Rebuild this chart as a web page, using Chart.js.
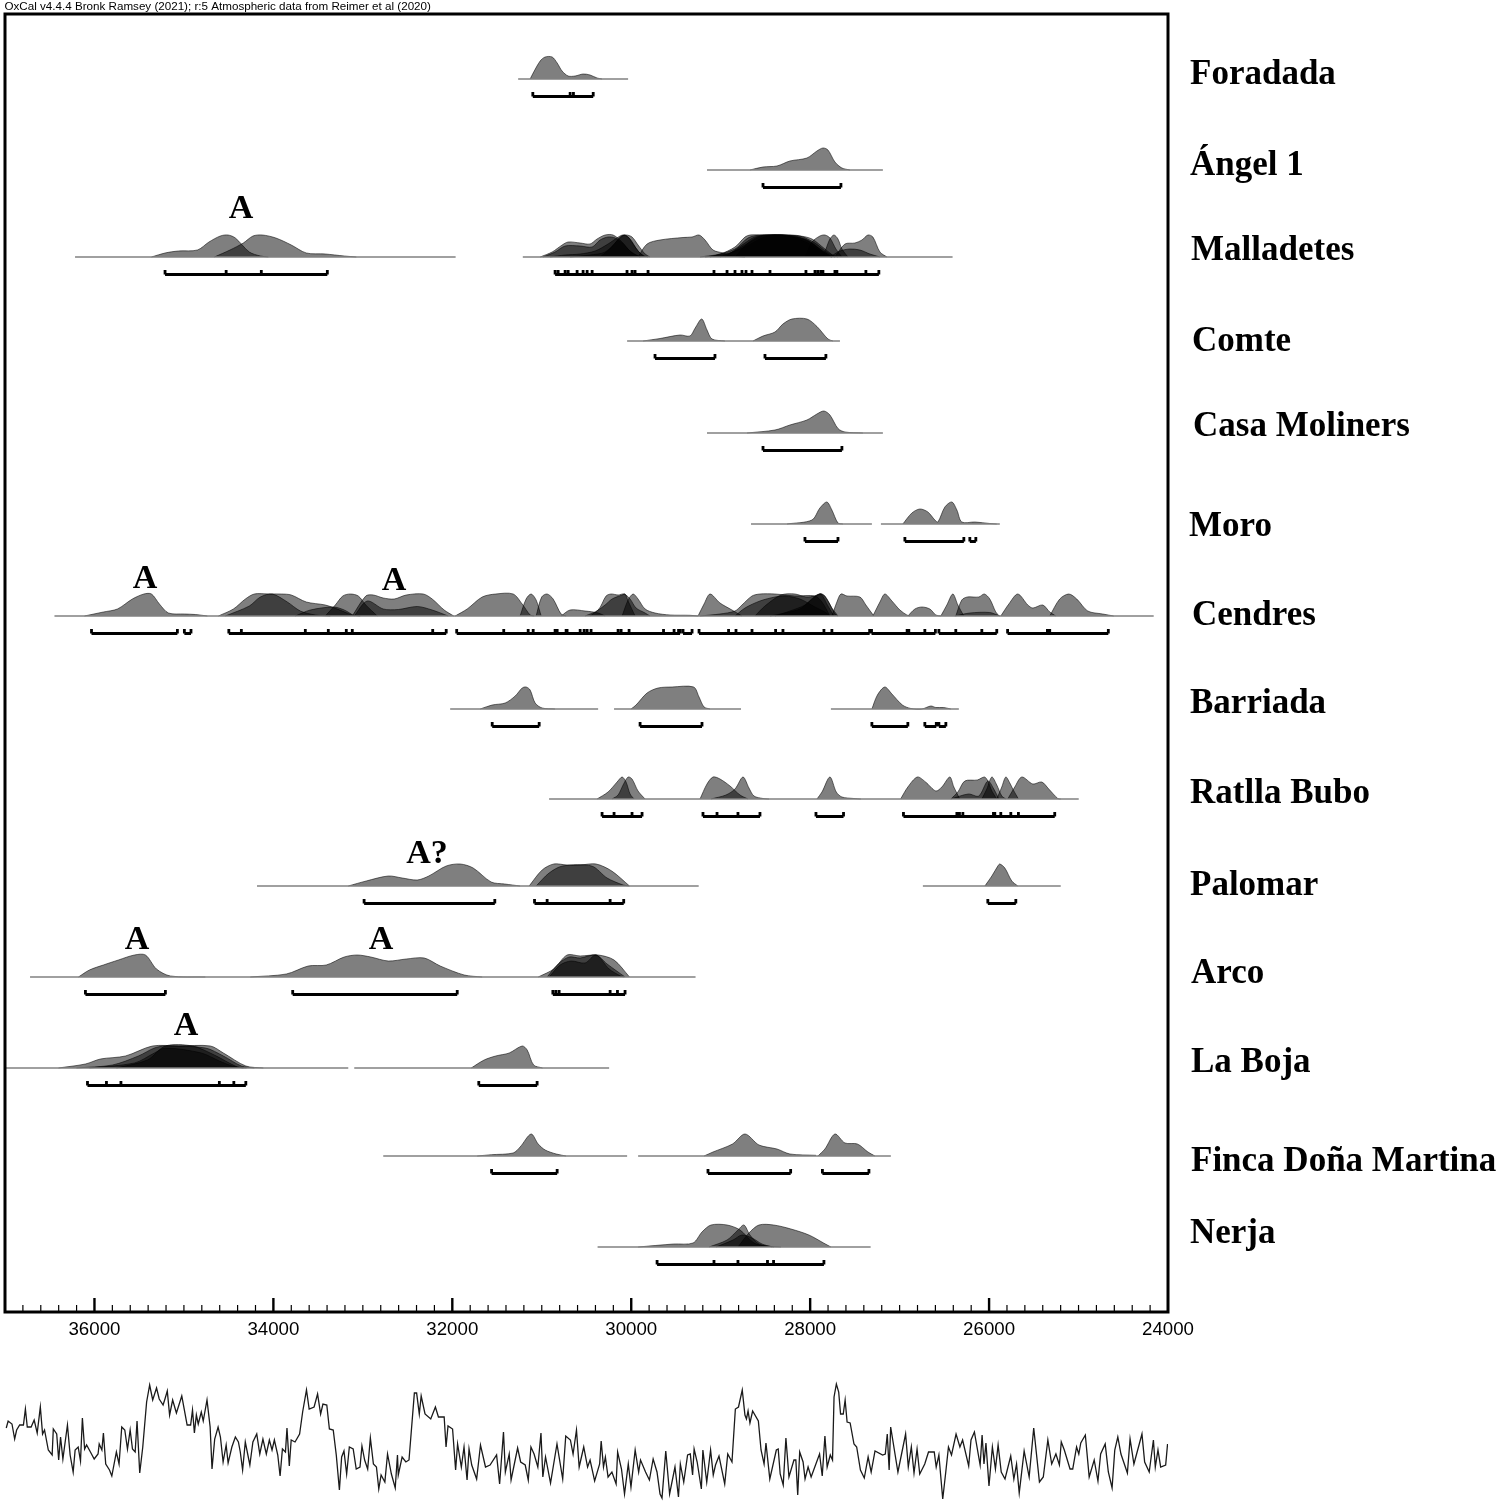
<!DOCTYPE html>
<html>
<head>
<meta charset="utf-8">
<script src="https://cdn.jsdelivr.net/npm/chart.js@4"></script>
<style>
  html, body { margin: 0; padding: 0; background: #fff; }
  canvas { position: absolute; left: 0; display: block; }
  #main { top: 0; }
  #curve { top: 1375px; }
</style>
</head>
<body>
<canvas id="main" width="1500" height="1375"></canvas>
<canvas id="curve" width="1500" height="130"></canvas>
<script>
const titleText = "OxCal v4.4.4 Bronk Ramsey (2021); r:5 Atmospheric data from Reimer et al (2020)";

// [year cal BP, height] for each density, [start, ...ticks, end] for each range
const foradadaLine = [[31264, 30035]];
const foradadaHumps = [
  [[31130,0],[31096,6],[31018,18],[30962,22],[30884,22],[30828,16],[30773,8],[30705,3],[30627,3],[30538,5],[30460,4],[30382,1],[30326,0]],
];
const foradadaRanges = [[31100, 30683, 30646, 30425]];

const angelLine = [[29153, 27187]];
const angelHumps = [
  [[28673,0],[28527,3],[28371,4],[28226,9],[28036,12],[27924,19],[27857,22],[27801,20],[27723,8],[27645,2],[27555,0]],
];
const angelRanges = [[28527, 27656]];

const malladetesLine = [[36217, 31963], [31212, 26408]];
const malladetesHumps = [
  [[35363,0],[35211,4],[35062,6],[34849,7],[34720,15],[34593,21],[34507,22],[34425,19],[34269,5],[34146,1],[34056,0]],
  [[34660,0],[34485,7],[34336,14],[34228,21],[34123,22],[33973,19],[33800,12],[33632,4],[33420,3],[33208,1],[33073,0]],
  [[31018,0],[30884,5],[30772,12],[30705,15],[30571,14],[30460,13],[30382,18],[30292,22],[30203,22],[30102,15],[30013,6],[29901,0]],
  [[30985,0],[30851,5],[30739,11],[30571,11],[30437,10],[30348,17],[30259,20],[30180,19],[30091,13],[29991,4],[29901,0]],
  [[30907,0],[30739,2],[30571,3],[30404,6],[30259,13],[30125,21],[30080,22],[30013,18],[29924,6],[29845,0]],
  [[30683,0],[30460,2],[30292,5],[30158,16],[30080,22],[30035,20],[29957,10],[29879,2],[29812,0]],
  [[30348,0],[30214,10],[30125,20],[30058,22],[29991,20],[29924,12],[29845,3],[29790,0]],
  [[29924,0],[29823,13],[29678,17],[29421,19.5],[29320,20],[29242,22],[29175,17],[29086,7],[28974,4],[28862,1],[28728,0]],
  [[29231,0],[29008,3],[28840,10],[28728,20],[28673,22],[28561,22],[28281,21],[28058,18],[27946,12],[27835,4],[27723,0]],
  [[29119,0],[28840,8],[28695,19],[28561,22],[28337,22],[28114,21],[27980,18],[27835,8],[27723,0]],
  [[28952,0],[28728,14],[28617,20],[28449,22],[28281,22],[28058,17],[27891,8],[27757,0]],
  [[28840,0],[28695,14],[28561,21],[28393,22],[28170,21],[28002,15],[27868,6],[27757,0]],
  [[29175,0],[28896,4],[28728,12],[28561,20],[28427,22],[28281,22],[28114,21],[27946,14],[27801,4],[27689,0]],
  [[29008,0],[28728,10],[28538,19],[28393,22],[28203,20],[28025,14],[27868,5],[27757,0]],
  [[28058,0],[27980,15],[27891,21],[27835,22],[27779,19],[27712,8],[27645,0]],
  [[27868,0],[27824,8],[27779,18],[27734,22],[27689,18],[27645,8],[27578,0]],
  [[27723,0],[27611,13],[27500,14],[27421,17],[27354,22],[27299,20],[27220,5],[27142,0]],
  [[27779,0],[27667,6],[27556,8],[27444,7],[27332,3],[27220,0]],
];
const malladetesRanges = [
  [35211, 34528, 34135, 33397],
  [30851, 30817, 30739, 30705, 30605, 30538, 30493, 30437, 30047, 29991, 29957, 29812, 29075, 28929, 28840, 28762, 28717, 28650, 28449, 28047, 27946, 27913, 27879, 27857, 27723, 27701, 27377, 27232],
];

const comteLine = [[30046, 27667]];
const comteHumps = [
  [[29868,0],[29678,2.5],[29454,6],[29343,5],[29287,12.7],[29212,22],[29153,11],[29097,2],[28952,0]],
  [[28639,0],[28527,5],[28393,9],[28304,17],[28203,22],[28036,22],[27924,14.5],[27801,2],[27745,0]],
];
const comteRanges = [[29734, 29064], [28505, 27824]];

const casaLine = [[29153, 27187]];
const casaHumps = [
  [[28706,0],[28393,3],[28226,8],[28036,13],[27924,19],[27846,22],[27779,18],[27689,4.5],[27611,1],[27410,0]],
];
const casaRanges = [[28527, 27645]];

const moroLine = [[28661, 27310], [27209, 25880]];
const moroHumps = [
  [[28259,0],[27980,4],[27891,16],[27813,22],[27757,14],[27689,1],[27634,0]],
  [[26964,0],[26863,11],[26774,15],[26684,12],[26606,4],[26572,2],[26494,17],[26416,22],[26360,14],[26305,2],[26159,2],[25992,0.5],[25914,0]],
];
const moroRanges = [[28058, 27689], [26941, 26282], [26215, 26148]];

const cendresLine = [[36447, 24160]];
const cendresHumps = [
  [[36112,0],[35900,4],[35743,7],[35576,17],[35447,22],[35363,22],[35274,12],[35173,3],[34995,2],[34872,1.5],[34738,0]],
  [[34615,0],[34447,7],[34313,17],[34213,22],[34056,22],[33911,22],[33800,21],[33632,14],[33420,11],[33286,7],[33118,1],[33029,0]],
  [[34537,0],[34269,10],[34146,19],[34012,22],[33844,14],[33699,5],[33531,1],[33364,0]],
  [[33755,0],[33587,6],[33330,9],[33208,6],[33096,0]],
  [[33420,0],[33308,11],[33224,20],[33141,22],[33051,20],[32967,11],[32839,0]],
  [[33118,0],[32967,20],[32884,21],[32772,18],[32649,17],[32515,21],[32325,22],[32225,17],[32091,6],[31984,0]],
  [[33096,0],[32951,15],[32772,7],[32604,6.5],[32392,9.5],[32225,6],[32046,0]],
  [[31968,0],[31834,7],[31666,19],[31514,22],[31320,22],[31219,12],[31130,1],[31085,0]],
  [[31242,0],[31175,17],[31119,22],[31063,16],[31007,0]],
  [[31063,0],[31001,19],[30940,22],[30873,17],[30784,2],[30728,0]],
  [[30784,0],[30683,6],[30516,5],[30370,3],[30292,0]],
  [[30516,0],[30370,6],[30281,20],[30225,22],[30147,21],[30080,22],[30013,17],[29946,8],[29845,3],[29790,0]],
  [[30460,0],[30292,11],[30214,17],[30102,21],[30069,22],[30035,15],[29957,0]],
  [[30102,0],[30035,16],[29979,22],[29924,17],[29845,7],[29734,3],[29566,1],[29343,0.7],[29253,0]],
  [[29253,0],[29186,12],[29119,22],[29008,13],[28874,6],[28762,0]],
  [[29231,0],[29008,2],[28840,5],[28762,11],[28650,20],[28561,22],[28393,22],[28281,21],[28170,20],[27946,20],[27868,14],[27779,0]],
  [[28840,0],[28728,8],[28561,15],[28393,19],[28281,20],[28114,17],[27946,9],[27835,4],[27779,0]],
  [[28617,0],[28505,10],[28326,21],[28170,22],[28047,19],[27946,20],[27879,22],[27801,10],[27734,0]],
  [[28449,0],[28281,3],[28114,7],[28002,15],[27891,22],[27835,20],[27757,8],[27689,0]],
  [[28393,0],[28226,5],[28058,11],[27946,20],[27868,22],[27801,15],[27723,2],[27689,0]],
  [[27757,0],[27701,14],[27656,22],[27589,20],[27444,19],[27377,11],[27288,0]],
  [[27299,0],[27220,14],[27165,22],[27086,15],[26997,6],[26919,1],[26885,0]],
  [[26908,0],[26829,7],[26751,9],[26662,7],[26595,1],[26539,0]],
  [[26539,0],[26472,11],[26405,22],[26349,11],[26282,0]],
  [[26372,0],[26305,16],[26243,19],[26115,19],[26053,22],[25992,17],[25925,4],[25886,0]],
  [[26383,0],[26215,3],[25992,3.5],[25880,0]],
  [[25869,0],[25779,12],[25679,22],[25567,11],[25511,8],[25400,11],[25322,4],[25254,0]],
  [[25322,0],[25210,17],[25109,22],[25020,17],[24897,5],[24730,2],[24607,0]],
];
const cendresRanges = [
  [36033, 35073],
  [34995, 34921],
  [34498, 34358, 33643, 33386, 33185, 33118, 32219, 32068],
  [31951, 31425, 31152, 31096, 30851, 30828, 30728, 30717, 30571, 30527, 30493, 30449, 30147, 30113, 30024, 29639, 29521, 29471, 29454],
  [29421, 29320],
  [29242, 28912, 28829, 28650, 28386, 28304, 27846, 27757, 27335],
  [27314, 26916, 26897, 26718, 26600],
  [26561, 26372, 26081, 25914],
  [25793, 25348, 25322, 24667],
];

const barriadaLine = [[32024, 30370], [30192, 28773], [27768, 26338]];
const barriadaHumps = [
  [[31688,0],[31554,4],[31409,6],[31297,13],[31219,21],[31175,22],[31130,19],[31074,6],[30996,1],[30851,0]],
  [[30002,0],[29946,4],[29823,16],[29700,21],[29544,22],[29303,22],[29242,12],[29186,2],[29119,0]],
  [[27310,0],[27248,14],[27165,22],[27086,15],[26969,4],[26874,0.5],[26751,0],[26651,3],[26595,1.5],[26510,1.5],[26427,0]],
];
const barriadaRanges = [[31554, 31029], [29901, 29209], [27310, 26908], [26718, 26590], [26561, 26483]];

const ratllaLine = [[30918, 24998]];
const ratllaHumps = [
  [[30382,0],[30259,7],[30158,17],[30102,22],[30058,17],[30013,5],[29968,0]],
  [[30214,0],[30147,4],[30091,14],[30035,22],[29991,20],[29924,8],[29845,0]],
  [[29231,0],[29153,15],[29086,22],[29008,20],[28896,13],[28784,4],[28695,0]],
  [[29108,0],[28941,4],[28840,10],[28751,22],[28684,11],[28628,3],[28527,0.5],[28460,0]],
  [[27924,0],[27868,7],[27779,22],[27708,7],[27645,2],[27511,0.5],[27433,0]],
  [[26989,0],[26908,12],[26802,22],[26710,17],[26595,8],[26528,12],[26439,22],[26394,12],[26327,0]],
  [[26427,0],[26349,7],[26271,18],[26131,19],[26052,22],[26014,18],[25969,8],[25914,0]],
  [[26081,0],[26025,10],[25969,22],[25914,14],[25858,3],[25813,0]],
  [[26427,0],[26231,5],[26115,3],[26014,18],[25947,10],[25891,0]],
  [[25914,0],[25858,12],[25813,22],[25768,16],[25735,10],[25672,0]],
  [[25791,0],[25713,12],[25634,22],[25511,15],[25411,17],[25333,10],[25232,0.5],[25199,0]],
];
const ratllaRanges = [
  [30326, 30192, 29991, 29879],
  [29198, 29041, 28807, 28561],
  [27935, 27627],
  [26957, 26360, 26331, 26293, 25951, 25936, 25869, 25757, 25672, 25266],
];

const palomarLine = [[34183, 29246], [26740, 25199]];
const palomarHumps = [
  [[33163,0],[32962,5],[32716,10],[32560,8],[32392,6],[32263,10],[32068,20],[31912,22],[31767,18],[31566,4],[31415,2],[31242,0]],
  [[31141,0],[30996,16],[30866,22],[30717,21],[30571,21],[30393,22],[30218,15],[30019,0]],
  [[31063,0],[30918,13],[30767,20],[30443,20],[30270,8],[30091,1],[30024,0]],
  [[26047,0],[25969,10],[25902,20],[25880,22],[25824,18],[25746,5],[25679,0]],
];
const palomarRanges = [[32986, 31525], [31081, 30940, 30236, 30084], [26014, 25701]];

const arcoLine = [[36720, 29281]];
const arcoHumps = [
  [[36179,0],[36056,7],[35900,12],[35732,17],[35553,22],[35430,22],[35307,8],[35151,1],[34760,0]],
  [[34258,0],[33855,3],[33610,11],[33409,12],[33208,20],[33062,22],[32912,20],[32716,16],[32515,18],[32314,19],[32135,11],[31867,2],[31666,0]],
  [[31040,0],[30866,8],[30717,22],[30571,21],[30370,22],[30192,17],[30019,0]],
  [[30940,0],[30817,13],[30694,20],[30571,19],[30393,22],[30270,13],[30069,0]],
  [[30918,0],[30795,12],[30672,16],[30516,14],[30393,22],[30247,8],[30119,1],[30080,0]],
];
const arcoRanges = [[36101, 35207], [33784, 31945], [30876, 30842, 30806, 30236, 30154, 30069]];

const bojaLine = [[37000, 33163], [33096, 30247]];
const bojaHumps = [
  [[36402,0],[36101,4],[35933,9],[35654,12],[35352,22],[35055,22],[34704,22],[34559,15],[34308,2],[34112,0]],
  [[36201,0],[35799,3],[35509,12],[35330,20],[35207,22],[34760,20],[34559,12],[34358,2],[34213,0]],
  [[36056,0],[35553,5],[35330,15],[35207,20],[34805,15],[34604,7],[34459,2],[34336,0]],
  [[35754,0],[35408,8],[35207,22],[34905,22],[34660,13],[34403,1],[34300,0]],
  [[31789,0],[31644,8],[31515,12],[31364,15],[31219,22],[31163,18],[31091,3],[30991,0]],
];
const bojaRanges = [[36078, 35866, 35704, 34604, 34442, 34308], [31704, 31052]];

const fincaLine = [[32772, 30046], [29923, 27098]];
const fincaHumps = [
  [[31722,0],[31561,1.3],[31320,3],[31242,9],[31119,22],[31040,12],[30962,6],[30839,2],[30728,0]],
  [[29186,0],[29086,4],[28868,12],[28728,22],[28572,11],[28371,7],[28226,2],[27935,0.7]],
  [[27913,0],[27835,7],[27723,22],[27611,13],[27472,12],[27354,4],[27276,0]],
];
const fincaRanges = [[31561, 30828], [29142, 28218], [27863, 27343]];

const nerjaLine = [[30376, 27324]];
const nerjaHumps = [
  [[29923,0],[29526,3],[29309,4],[29209,15],[29108,22],[28929,22],[28784,17],[28628,4],[28494,1],[28326,0]],
  [[29130,0],[28929,7],[28807,17],[28740,22],[28673,12],[28572,3],[28404,0]],
  [[29052,0],[28862,7],[28762,12],[28650,9],[28538,3],[28427,0]],
  [[28807,0],[28684,14],[28572,22],[28409,22],[28215,18],[28014,12],[27850,4],[27768,0]],
];
const nerjaRanges = [[29711, 29075, 28807, 28477, 28409, 27846]];

const siteNames = ["Foradada", "Ángel 1", "Malladetes", "Comte", "Casa Moliners", "Moro", "Cendres", "Barriada", "Ratlla Bubo", "Palomar", "Arco", "La Boja", "Finca Doña Martina", "Nerja"];
const siteLevels = [1233, 1142, 1055, 971, 879, 788, 696, 603, 513, 426, 335, 244, 156, 65];
const siteLines = [foradadaLine, angelLine, malladetesLine, comteLine, casaLine, moroLine, cendresLine, barriadaLine, ratllaLine, palomarLine, arcoLine, bojaLine, fincaLine, nerjaLine];
const siteHumps = [foradadaHumps, angelHumps, malladetesHumps, comteHumps, casaHumps, moroHumps, cendresHumps, barriadaHumps, ratllaHumps, palomarHumps, arcoHumps, bojaHumps, fincaHumps, nerjaHumps];
const siteRanges = [foradadaRanges, angelRanges, malladetesRanges, comteRanges, casaRanges, moroRanges, cendresRanges, barriadaRanges, ratllaRanges, palomarRanges, arcoRanges, bojaRanges, fincaRanges, nerjaRanges];
const siteLabelX = [1190, 1190, 1191, 1192, 1193, 1189, 1192, 1190, 1190, 1190, 1191, 1191, 1191, 1190];
const siteLabelY = [75, 166, 251, 342, 427, 527, 616, 704, 794, 886, 974, 1063, 1162, 1234];

const clusterMarks = ["A", "A", "A", "A?", "A", "A", "A"];
const clusterYears = [34362, 35435, 32652, 32283, 35524, 32797, 34977];
const clusterLevels = [1103, 733, 731, 458, 372, 372, 286];

// ice core curve
const curveYears = [36986,36965,36922,36892,36870,36836,36794,36772,36751,36708,36674,36640,36605,36580,36558,36516,36473,36460,36422,36400,36379,36353,36302,36272,36238,36216,36182,36156,36135,36110,36088,36045,36003,35960,35947,35917,35900,35874,35832,35806,35755,35725,35695,35661,35631,35601,35575,35545,35524,35494,35460,35417,35383,35349,35306,35276,35233,35212,35186,35160,35126,35084,35024,34964,34925,34904,34883,34861,34840,34806,34784,34742,34707,34686,34656,34618,34592,34562,34528,34506,34464,34425,34391,34370,34344,34314,34263,34229,34186,34152,34117,34079,34045,34015,33989,33951,33925,33899,33865,33848,33822,33801,33758,33707,33673,33630,33600,33545,33506,33472,33446,33403,33374,33331,33297,33262,33237,33211,33181,33151,33108,33074,33032,33010,32980,32946,32916,32882,32848,32822,32796,32754,32724,32681,32638,32613,32604,32561,32519,32484,32424,32399,32369,32348,32305,32241,32189,32155,32091,32070,32048,31997,31963,31941,31899,31869,31835,31813,31783,31728,31685,31629,31578,31505,31471,31428,31407,31364,31343,31270,31236,31185,31151,31121,31086,31044,31009,30988,30958,30902,30830,30766,30732,30680,30650,30612,30582,30531,30488,30460,30409,30353,30336,30310,30289,30259,30216,30169,30152,30109,30075,30033,30003,29956,29917,29896,29840,29797,29755,29712,29678,29656,29614,29571,29511,29472,29451,29413,29370,29340,29314,29297,29263,29216,29199,29156,29113,29083,29058,29019,28955,28921,28874,28836,28801,28759,28729,28712,28694,28673,28643,28579,28549,28515,28494,28451,28378,28357,28335,28301,28271,28237,28181,28160,28139,28117,28079,28057,28023,27989,27895,27865,27835,27810,27775,27750,27733,27707,27681,27660,27630,27609,27587,27553,27510,27480,27438,27395,27352,27318,27275,27190,27160,27138,27117,27100,27019,26933,26903,26869,26839,26805,26775,26719,26677,26613,26591,26561,26518,26484,26454,26420,26369,26326,26296,26228,26202,26164,26100,26078,26057,26035,26001,25963,25929,25899,25864,25822,25758,25723,25693,25663,25608,25552,25501,25437,25394,25343,25300,25253,25214,25193,25159,25095,25065,25022,24997,24975,24924,24881,24825,24783,24753,24702,24667,24625,24595,24561,24526,24454,24424,24381,24291,24261,24210,24163,24142,24112,24082,24026,24005];
const curveValues = [79,86,83,68,77,82,82,98,80,80,87,74,100,73,77,57,52,78,73,47,70,48,82,52,35,57,60,46,89,58,62,55,48,53,63,57,74,43,37,31,55,43,80,77,58,77,58,55,86,34,60,105,122,107,119,108,102,108,116,92,107,94,111,82,82,97,74,92,83,95,86,107,80,38,68,80,70,45,62,44,60,70,65,55,37,65,42,65,73,53,68,53,67,57,67,52,31,58,55,79,41,67,65,73,95,117,98,100,113,93,103,102,78,77,52,17,50,56,33,60,58,38,40,61,47,38,69,43,40,18,32,25,53,33,19,52,32,50,45,47,114,114,93,111,93,88,100,90,90,60,81,78,37,63,40,60,27,58,42,28,62,40,42,52,23,75,35,53,27,59,45,42,27,60,53,40,74,30,50,24,63,28,71,67,53,77,40,60,40,47,26,43,66,40,50,30,35,23,55,38,13,43,20,57,35,47,35,27,48,35,13,9,56,13,40,10,43,25,52,53,32,58,45,18,57,25,57,32,42,51,23,53,45,98,100,117,92,88,96,84,96,86,57,43,64,28,57,58,33,22,69,30,47,47,12,55,45,28,40,30,53,31,71,40,52,47,110,123,115,93,93,107,85,84,63,60,37,29,50,35,56,52,53,73,37,80,35,73,40,60,34,58,33,43,55,55,40,52,8,35,60,52,73,60,67,41,67,75,42,72,43,64,21,60,38,62,35,28,51,28,43,14,56,30,79,25,30,67,43,53,42,65,57,38,38,60,53,64,72,30,47,26,53,63,35,19,57,70,53,34,68,43,73,45,35,67,40,57,40,42,63];

const xMin = 24000, xMax = 37000;

const datasets = [];
siteNames.forEach((name, i) => {
  const level = siteLevels[i];
  siteLines[i].forEach(l => {
    datasets.push({
      data: l.map(x => ({ x, y: level })),
      borderColor: "#808080", borderWidth: 1.3, fill: false, pointRadius: 0,
    });
  });
  siteHumps[i].forEach(h => {
    datasets.push({
      data: h.map(p => ({ x: p[0], y: level + p[1] })),
      borderColor: "rgba(0,0,0,.55)", borderWidth: 1,
      backgroundColor: "rgba(0,0,0,.5)",
      fill: { value: level },
      tension: 0.3,
      pointRadius: 0,
    });
  });
  // range brackets, ticks stand up from the line
  const pts = [];
  siteRanges[i].forEach(r => {
    pts.push({ x: r[0], y: level - 17.5 }, { x: r[r.length - 1], y: level - 17.5 }, { x: r[0], y: null });
    r.forEach(t => pts.push({ x: t, y: level - 17.5 }, { x: t, y: level - 13 }, { x: t, y: null }));
  });
  datasets.push({ data: pts, borderColor: "#000", borderWidth: 2.8, fill: false, pointRadius: 0, spanGaps: false });
});

const oxcalFrame = {
  id: "oxcalFrame",
  afterDatasetsDraw(chart) {
    const { ctx, chartArea: a, scales } = chart;
    ctx.save();
    ctx.strokeStyle = "#000";
    scales.x.ticks.forEach(t => {
      const px = scales.x.getPixelForValue(t.value);
      const major = t.value % 2000 === 0;
      if (t.value === xMin || t.value === xMax) return;
      ctx.lineWidth = major ? 2.4 : 1.2;
      ctx.beginPath();
      ctx.moveTo(px, a.bottom);
      ctx.lineTo(px, a.bottom - (major ? 14 : 7));
      ctx.stroke();
    });
    ctx.lineWidth = 3;
    ctx.strokeRect(a.left, a.top, a.right - a.left, a.bottom - a.top);

    ctx.fillStyle = "#000";
    ctx.textBaseline = "middle";
    ctx.textAlign = "left";
    ctx.font = "11.63px 'Liberation Sans'";
    ctx.fillText(titleText, 4.5, 7);

    ctx.font = "bold 35px 'Liberation Serif'";
    siteNames.forEach((name, i) => ctx.fillText(name, siteLabelX[i], siteLabelY[i]));

    ctx.textAlign = "center";
    ctx.font = "bold 34px 'Liberation Serif'";
    clusterMarks.forEach((m, i) => {
      ctx.fillText(m, scales.x.getPixelForValue(clusterYears[i]), scales.y.getPixelForValue(clusterLevels[i]));
    });
    ctx.restore();
  },
};

new Chart(document.getElementById("main"), {
  type: "line",
  data: { datasets },
  plugins: [oxcalFrame],
  options: {
    responsive: false, animation: false, devicePixelRatio: 1,
    layout: { autoPadding: false, padding: { left: 5, right: 332, top: 14, bottom: 33 } },
    plugins: { legend: { display: false }, tooltip: { enabled: false } },
    scales: {
      x: {
        type: "linear", reverse: true, min: xMin, max: xMax,
        afterFit(s) { s.height = 30; s.paddingLeft = 0; s.paddingRight = 0; },
        grid: { display: false, drawTicks: false },
        border: { display: false },
        ticks: {
          stepSize: 200, autoSkip: false, maxRotation: 0, padding: 7, color: "#000",
          font: { family: "Liberation Sans", size: 18.7 },
          callback: v => (v % 2000 === 0 ? String(v) : ""),
        },
      },
      y: { type: "linear", display: false, min: 0, max: 1298 },
    },
  },
});

new Chart(document.getElementById("curve"), {
  type: "line",
  data: {
    datasets: [{
      data: curveYears.map((x, i) => ({ x, y: curveValues[i] })),
      borderColor: "#1a1a1a", borderWidth: 1.3, pointRadius: 0, fill: false,
    }],
  },
  options: {
    responsive: false, animation: false, devicePixelRatio: 1,
    layout: { autoPadding: false, padding: { left: 5, right: 332, top: 0, bottom: 0 } },
    plugins: { legend: { display: false }, tooltip: { enabled: false } },
    scales: {
      x: { type: "linear", reverse: true, min: xMin, max: xMax, display: false },
      y: { type: "linear", display: false, min: 2, max: 132 },
    },
  },
});
</script>
</body>
</html>
